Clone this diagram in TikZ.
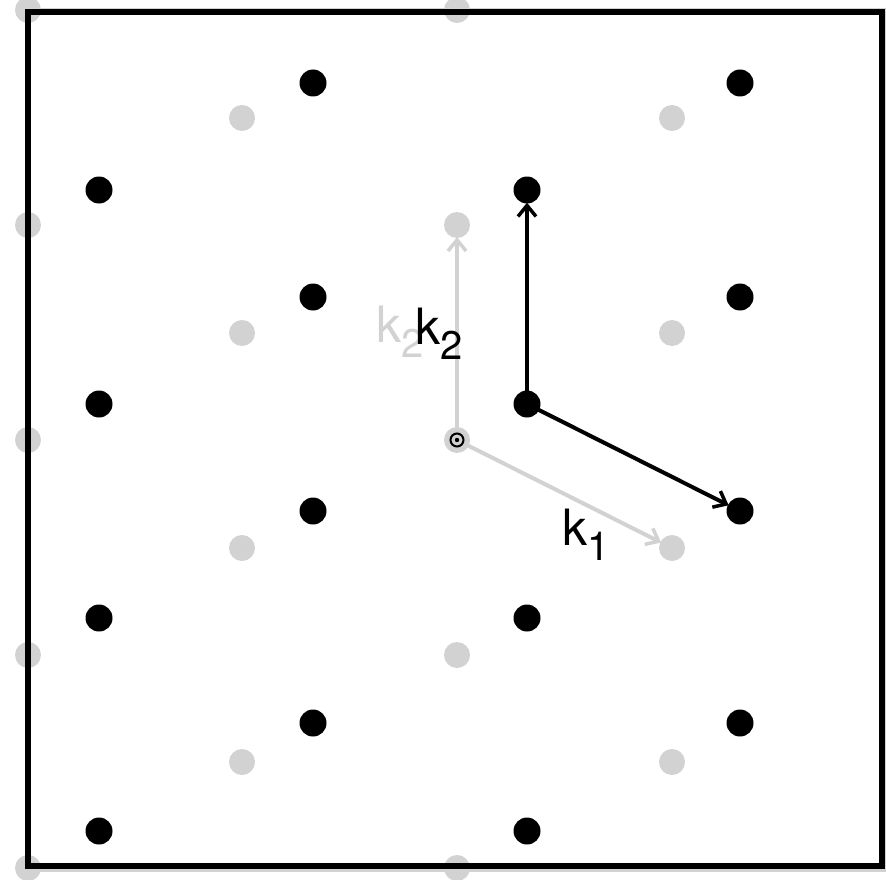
\documentclass[tikz,border=0pt]{standalone}
\usepackage{fontspec}
\setmainfont{TeX Gyre Heros}
\usetikzlibrary{arrows.meta}
\definecolor{lgray}{RGB}{210,210,210}
\tikzset{
  gdot/.style={circle,fill=lgray,draw=none,minimum size=26pt,inner sep=0pt},
  bdot/.style={circle,fill=black,draw=none,minimum size=27pt,inner sep=0pt},
  vec/.style={line width=4pt,-{Straight Barb[length=11pt,width=18pt,line width=3.5pt]},shorten >=-1pt},
  lbl/.style={inner sep=0pt,font=\fontsize{50}{50}\selectfont}
}
\newcommand{\kk}[1]{k\raisebox{-0.3em}{\fontsize{40}{40}\selectfont #1}}
\begin{document}
\begin{tikzpicture}[x=1pt,y=-1pt]
\useasboundingbox (0,0) rectangle (886,880);
\fill[white] (0,0) rectangle (886,880);
% gray lattice
\foreach \x/\y [count=\i] in {28/10,457/10,28/225,457/225,28/655,457/655,28/868,457/868,28/440}
  \node[gdot] (g\i) at (\x,\y) {};
\foreach \x/\y [count=\i] in {242/118,672/118,242/333,672/333,242/548,672/548,242/762,672/762}
  \node[gdot] (h\i) at (\x,\y) {};
\node[gdot] (o) at (457,440) {};
\draw[lgray,line width=3pt] (28,10) rectangle (885,870);
% frame
\draw[black,line width=6pt] (28,12) rectangle (882,866);
% black lattice
\foreach \x/\y [count=\i] in {313/83,740/83,99/190,313/297,740/297,99/404,313/511,99/618,527/618,313/723,740/723,99/831,527/831}
  \node[bdot] (b\i) at (\x,\y) {};
\node[bdot] (bo) at (527,404) {};
\node[bdot] (bk1) at (740,511) {};
\node[bdot] (bk2) at (527,190) {};
% gray vectors
\draw[vec,lgray] (o.center) -- (h6);
\draw[vec,lgray] (o.center) -- (g4);
% origin marker
\fill[lgray] (o.center) circle (10pt);
\draw[black,line width=2pt] (o.center) circle (6.5pt);
\fill[black] (o.center) circle (2.2pt);
% black vectors
\draw[vec,black] (bo.center) -- (bk1);
\draw[vec,black] (bo.center) -- (bk2);
% labels
\node[lbl,text=lgray] (lg2) at (400,332) {\kk{2}};
\node[lbl] (lb2) at (439,334) {\kk{2}};
\node[lbl] (lb1) at (586,535) {\kk{1}};
\end{tikzpicture}
\end{document}
